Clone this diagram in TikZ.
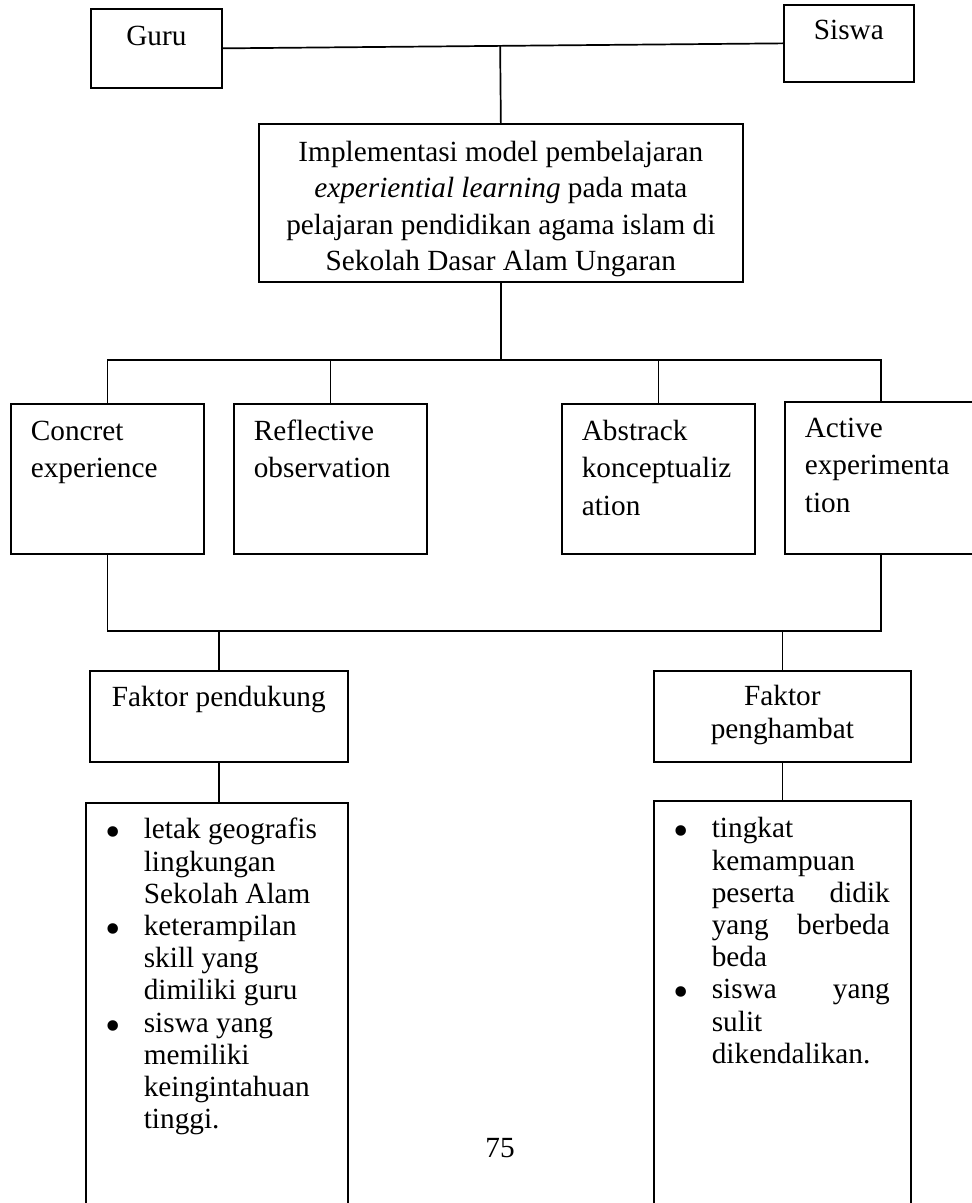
\documentclass[tikz,border=0pt]{standalone}
\usepackage{fontspec}
\setmainfont{Liberation Serif}
\usetikzlibrary{calc}
\newlength\pxu
\setlength\pxu{0.41pt}
% text of a box: width, height, first baseline, setup, lines
\newcommand{\boxtxt}[5]{\parbox[t][#2\pxu][t]{#1\pxu}{#4\vspace*{\dimexpr#3\pxu-\ht\strutbox\relax}\strut#5}}
\newcommand{\stagetxt}{\fontsize{12}{15.2}\selectfont\raggedright\leftskip=20\pxu}
\newcommand{\midtxt}[1]{\fontsize{12}{#1}\selectfont\centering}
\newcommand{\listtxt}{\fontsize{12}{13.2}\selectfont\raggedright\leftskip=58\pxu}
\newcommand{\bul}{\leavevmode\llap{\raisebox{-8\pxu}{\fontsize{18}{18}\selectfont\textbullet}\hspace*{23\pxu}}}
\newcommand{\spread}[1]{\makebox[178\pxu][s]{#1}}
\tikzset{
  box/.style={draw, line width=0.7pt, anchor=north west, inner sep=0pt},
  link/.style={line width=0.7pt}
}
\begin{document}
\begin{tikzpicture}[x=\pxu, y=-\pxu]
	\useasboundingbox (0,0) rectangle (971,1203);
	% top row
	\node[box] (guru) at (90,8) {\boxtxt{131}{79}{37}{\midtxt{15.2}}{Guru}};
	\node[box] (siswa) at (783,4) {\boxtxt{130}{77}{35}{\midtxt{15.2}}{Siswa}};
	\node[box] (impl) at (258,123) {\boxtxt{484}{158}{38}{\midtxt{14.8}}{Implementasi model pembelajaran\\ \textit{experiential learning} pada mata\\ pelajaran pendidikan agama islam di\\ Sekolah Dasar Alam Ungaran}};
	% four stages
	\node[box] (ce) at (10,403) {\boxtxt{193}{150}{37}{\stagetxt}{Concret\\ experience}};
	\node[box] (ro) at (233,403) {\boxtxt{193}{150}{37}{\stagetxt}{Reflective\\ observation}};
	\node[box] (ac) at (561,403) {\boxtxt{193}{150}{37}{\stagetxt}{Abstrack\\ konceptualiz\\ ation}};
	\node[box] (ae) at (784,401) {\boxtxt{192}{152}{36}{\stagetxt}{Active\\ experimenta\\ tion}};
	% factors
	\node[box] (fp) at (89,670) {\boxtxt{258}{91}{36}{\midtxt{15.2}}{Faktor pendukung}};
	\node[box] (fh) at (653,670) {\boxtxt{257}{91}{35}{\midtxt{13.5}}{Faktor\\ penghambat}};
	\node[box] (lp) at (85,802) {\boxtxt{262}{420}{36}{\listtxt}{\bul letak geografis\\ lingkungan\\ Sekolah Alam\\ \bul keterampilan\\ skill yang\\ dimiliki guru\\ \bul siswa yang\\ memiliki\\ keingintahuan\\ tinggi.}};
	\node[box] (lh) at (653,800) {\boxtxt{257}{420}{37}{\listtxt}{\bul tingkat\\ kemampuan\\ \spread{peserta didik}\\ \spread{yang berbeda}\\ beda\\ \bul\spread{siswa yang}\\ sulit\\ dikendalikan.}};
	\node (page) at (500,1148) {\fontsize{12}{14}\selectfont 75};
	% connectors
	\coordinate (hub) at ($(guru.east)!(impl.north)!(siswa.west)$);
	\coordinate (split) at ($(impl.south)+(0,77)$);
	\coordinate (join) at ($(ce.south)+(0,76)$);
	\draw[link] (guru.east) -- (siswa.west);
	\draw[link] (hub) -- (impl.north);
	\draw[link] (impl.south) -- (split);
	\draw[link] (ce.north) -- (ce.north |- split) -- (ae.north |- split) -- (ae.north);
	\draw[link] (ro.north) -- (ro.north |- split);
	\draw[link] (ac.north) -- (ac.north |- split);
	\draw[link] (ce.south) -- (ce.south |- join) -- (ae.south |- join) -- (ae.south);
	\draw[link] (fp.north) -- (fp.north |- join);
	\draw[link] (fh.north) -- (fh.north |- join);
	\draw[link] (fp.south) -- (fp.south |- lp.north);
	\draw[link] (fh.south) -- (fh.south |- lh.north);
\end{tikzpicture}
\end{document}
